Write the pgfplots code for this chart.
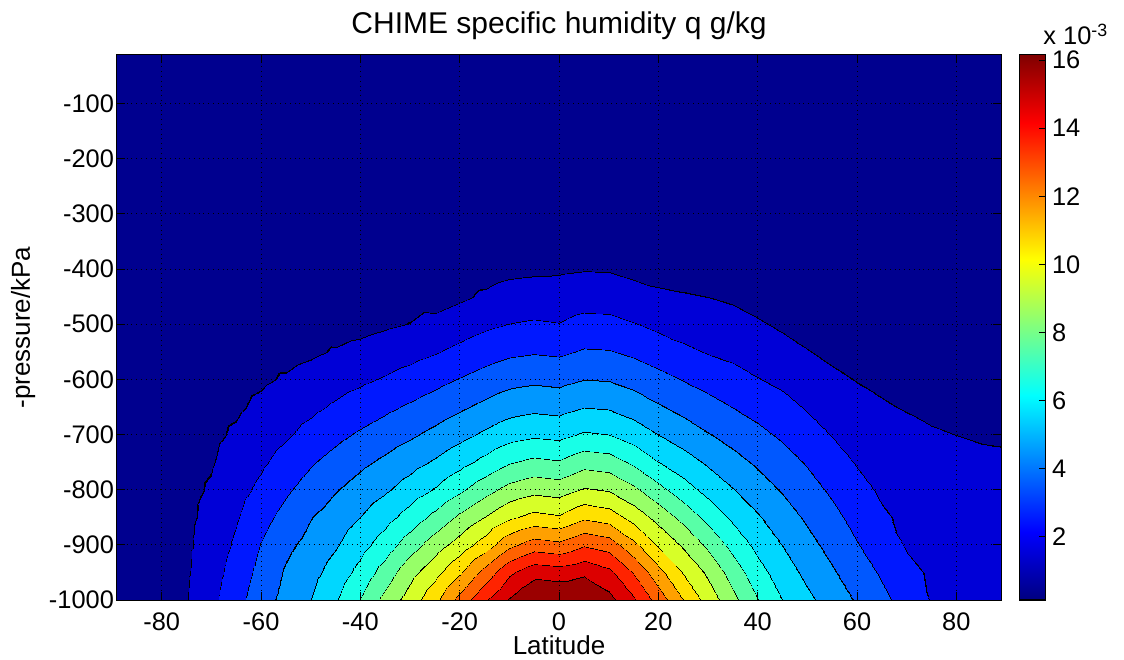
\documentclass[border=0pt]{standalone}
\usepackage{fontspec}
\setmainfont{Liberation Sans}
\usepackage{pgfplots}
\pgfplotsset{compat=1.18}
\pgfplotsset{
 colormap={chime}{
  rgb255(0.15cm)=(0,0,143)
  rgb255(0.98cm)=(0,0,0)
  rgb255(1cm)=(0,0,215)
  rgb255(1.982cm)=(0,0,0)
  rgb255(2cm)=(0,24,255)
  rgb255(2.975cm)=(0,0,0)
  rgb255(3cm)=(0,88,255)
  rgb255(3.965cm)=(0,0,0)
  rgb255(4cm)=(0,151,255)
  rgb255(4.965cm)=(0,0,0)
  rgb255(5cm)=(0,215,255)
  rgb255(5.965cm)=(0,0,0)
  rgb255(6cm)=(24,255,231)
  rgb255(6.965cm)=(0,0,0)
  rgb255(7cm)=(88,255,167)
  rgb255(7.965cm)=(0,0,0)
  rgb255(8cm)=(151,255,104)
  rgb255(8.95cm)=(0,0,0)
  rgb255(9cm)=(215,255,40)
  rgb255(9.95cm)=(0,0,0)
  rgb255(10cm)=(255,225,0)
  rgb255(10.95cm)=(0,0,0)
  rgb255(11cm)=(255,160,0)
  rgb255(11.95cm)=(0,0,0)
  rgb255(12cm)=(255,98,0)
  rgb255(12.95cm)=(0,0,0)
  rgb255(13cm)=(255,35,0)
  rgb255(13.95cm)=(0,0,0)
  rgb255(14cm)=(220,0,0)
  rgb255(14.95cm)=(0,0,0)
  rgb255(15cm)=(155,0,0)
  rgb255(16.15cm)=(155,0,0)
 }
}
\begin{document}
\begin{tikzpicture}
\begin{axis}[
 at={(0pt,0pt)}, anchor=south west,
 scale only axis, width=442pt, height=272.5pt,
 xmin=-89, xmax=89, ymin=-1000, ymax=-12,
 xtick={-80,-60,-40,-20,0,20,40,60,80},
 ytick={-1000,-900,-800,-700,-600,-500,-400,-300,-200,-100},
 tick align=inside, tick pos=both, major tick length=4pt,
 grid=major, major grid style={black, dotted, line width=0.45pt},
 axis on top,
 axis line style={black, line width=0.5pt},
 every tick/.append style={black, line width=0.5pt},
 tick label style={font=\fontsize{12.7}{14}\selectfont},
 /pgf/number format/assume math mode=true,
 /pgf/number format/1000 sep={},
 yticklabel style={xshift=2pt},
 xticklabel style={yshift=-3pt},
 title={CHIME specific humidity q g/kg},
 title style={font=\fontsize{15}{18}\selectfont, yshift=-2pt},
 xlabel={Latitude}, ylabel={-pressure/kPa},
 label style={font=\fontsize{13}{15}\selectfont},
 xlabel style={at={(axis description cs:0.5,0)}, anchor=base, yshift=-27pt},
 colormap name=chime, colormap access=piecewise constant,
 point meta min=0.15, point meta max=16.15,
 colorbar,
 colorbar shift/.style={xshift=9pt},
 colorbar style={
  at={(parent axis.north east)}, anchor=north west,
  width=13pt,
  colormap/jet, colormap access=map,
  ytick={2,4,6,8,10,12,14,16},
  ytick pos=right, yticklabel pos=right,
  tick align=inside, major tick length=3pt,
  axis line style={black, line width=0.5pt},
  every tick/.append style={black, line width=0.5pt},
  tick label style={font=\fontsize{12.7}{14}\selectfont},
  /pgf/number format/assume math mode=true,
  title={x 10\textsuperscript{-3}},
  title style={at={(0.5,1)}, anchor=base west, xshift=5.5pt, yshift=-1pt, inner sep=0pt, font=\fontsize{12.7}{14}\selectfont},
 },
]
\addplot[surf, shader=interp, mesh/cols=37, mesh/rows=15, point meta=explicit] table[row sep=\\, x=lat, y=p, meta=q] {
lat p q \\
-90 -1000 0.40 \\ -85 -1000 0.55 \\ -80 -1000 0.75 \\ -75 -1000 0.97 \\ -70 -1000 1.72 \\ -65 -1000 2.66 \\ -60 -1000 3.55 \\ -55 -1000 4.31 \\ -50 -1000 4.99 \\ -45 -1000 5.91 \\ -40 -1000 7.00 \\ -35 -1000 8.29 \\ -30 -1000 9.44 \\ -25 -1000 10.71 \\ -20 -1000 12.33 \\ -15 -1000 13.86 \\ -10 -1000 15.05 \\ -5 -1000 16.00 \\ 0 -1000 16.05 \\ 5 -1000 16.15 \\ 10 -1000 15.30 \\ 15 -1000 14.10 \\ 20 -1000 12.58 \\ 25 -1000 11.00 \\ 30 -1000 9.56 \\ 35 -1000 8.25 \\ 40 -1000 7.00 \\ 45 -1000 5.96 \\ 50 -1000 5.21 \\ 55 -1000 4.53 \\ 60 -1000 3.88 \\ 65 -1000 3.23 \\ 70 -1000 2.58 \\ 75 -1000 1.95 \\ 80 -1000 1.80 \\ 85 -1000 1.65 \\ 90 -1000 1.50 \\
-90 -950 0.39 \\ -85 -950 0.53 \\ -80 -950 0.72 \\ -75 -950 0.90 \\ -70 -950 1.56 \\ -65 -950 2.41 \\ -60 -950 3.29 \\ -55 -950 4.10 \\ -50 -950 4.66 \\ -45 -950 5.40 \\ -40 -950 6.29 \\ -35 -950 7.42 \\ -30 -950 8.63 \\ -25 -950 9.63 \\ -20 -950 10.84 \\ -15 -950 12.33 \\ -10 -950 13.77 \\ -5 -950 14.60 \\ 0 -950 14.43 \\ 5 -950 14.76 \\ 10 -950 14.22 \\ 15 -950 12.86 \\ 20 -950 11.32 \\ 25 -950 9.90 \\ 30 -950 8.77 \\ 35 -950 7.52 \\ 40 -950 6.33 \\ 45 -950 5.45 \\ 50 -950 4.73 \\ 55 -950 4.09 \\ 60 -950 3.46 \\ 65 -950 2.85 \\ 70 -950 2.22 \\ 75 -950 1.88 \\ 80 -950 1.75 \\ 85 -950 1.61 \\ 90 -950 1.47 \\
-90 -900 0.38 \\ -85 -900 0.51 \\ -80 -900 0.69 \\ -75 -900 0.85 \\ -70 -900 1.40 \\ -65 -900 2.15 \\ -60 -900 3.03 \\ -55 -900 3.77 \\ -50 -900 4.31 \\ -45 -900 4.90 \\ -40 -900 5.62 \\ -35 -900 6.47 \\ -30 -900 7.52 \\ -25 -900 8.52 \\ -20 -900 9.44 \\ -15 -900 10.46 \\ -10 -900 11.73 \\ -5 -900 12.48 \\ 0 -900 12.26 \\ 5 -900 12.89 \\ 10 -900 12.54 \\ 15 -900 11.23 \\ 20 -900 9.88 \\ 25 -900 8.84 \\ 30 -900 7.78 \\ 35 -900 6.64 \\ 40 -900 5.69 \\ 45 -900 4.95 \\ 50 -900 4.29 \\ 55 -900 3.67 \\ 60 -900 3.04 \\ 65 -900 2.48 \\ 70 -900 1.90 \\ 75 -900 1.80 \\ 80 -900 1.70 \\ 85 -900 1.57 \\ 90 -900 1.44 \\
-90 -850 0.37 \\ -85 -850 0.49 \\ -80 -850 0.66 \\ -75 -850 0.82 \\ -70 -850 1.24 \\ -65 -850 1.90 \\ -60 -850 2.63 \\ -55 -850 3.32 \\ -50 -850 3.95 \\ -45 -850 4.43 \\ -40 -850 4.98 \\ -35 -850 5.62 \\ -30 -850 6.39 \\ -25 -850 7.26 \\ -20 -850 8.18 \\ -15 -850 9.00 \\ -10 -850 9.79 \\ -5 -850 10.28 \\ 0 -850 10.08 \\ 5 -850 10.80 \\ 10 -850 10.50 \\ 15 -850 9.56 \\ 20 -850 8.63 \\ 25 -850 7.68 \\ 30 -850 6.67 \\ 35 -850 5.78 \\ 40 -850 5.06 \\ 45 -850 4.42 \\ 50 -850 3.83 \\ 55 -850 3.25 \\ 60 -850 2.66 \\ 65 -850 2.11 \\ 70 -850 1.80 \\ 75 -850 1.72 \\ 80 -850 1.64 \\ 85 -850 1.52 \\ 90 -850 1.40 \\
-90 -800 0.36 \\ -85 -800 0.47 \\ -80 -800 0.63 \\ -75 -800 0.78 \\ -70 -800 1.08 \\ -65 -800 1.64 \\ -60 -800 2.21 \\ -55 -800 2.85 \\ -50 -800 3.42 \\ -45 -800 3.94 \\ -40 -800 4.38 \\ -35 -800 4.86 \\ -30 -800 5.44 \\ -25 -800 6.07 \\ -20 -800 6.83 \\ -15 -800 7.63 \\ -10 -800 8.34 \\ -5 -800 8.71 \\ 0 -800 8.56 \\ 5 -800 9.09 \\ 10 -800 8.91 \\ 15 -800 8.19 \\ 20 -800 7.32 \\ 25 -800 6.44 \\ 30 -800 5.67 \\ 35 -800 5.03 \\ 40 -800 4.44 \\ 45 -800 3.89 \\ 50 -800 3.37 \\ 55 -800 2.83 \\ 60 -800 2.29 \\ 65 -800 1.85 \\ 70 -800 1.70 \\ 75 -800 1.62 \\ 80 -800 1.56 \\ 85 -800 1.45 \\ 90 -800 1.35 \\
-90 -750 0.35 \\ -85 -750 0.45 \\ -80 -750 0.60 \\ -75 -750 0.74 \\ -70 -750 0.92 \\ -65 -750 1.38 \\ -60 -750 1.84 \\ -55 -750 2.35 \\ -50 -750 2.89 \\ -45 -750 3.35 \\ -40 -750 3.77 \\ -35 -750 4.17 \\ -30 -750 4.62 \\ -25 -750 5.10 \\ -20 -750 5.66 \\ -15 -750 6.26 \\ -10 -750 6.89 \\ -5 -750 7.21 \\ 0 -750 7.06 \\ 5 -750 7.61 \\ 10 -750 7.45 \\ 15 -750 6.78 \\ 20 -750 6.00 \\ 25 -750 5.41 \\ 30 -750 4.84 \\ 35 -750 4.31 \\ 40 -750 3.82 \\ 45 -750 3.37 \\ 50 -750 2.90 \\ 55 -750 2.39 \\ 60 -750 1.92 \\ 65 -750 1.65 \\ 70 -750 1.57 \\ 75 -750 1.48 \\ 80 -750 1.40 \\ 85 -750 1.30 \\ 90 -750 1.22 \\
-90 -700 0.34 \\ -85 -700 0.43 \\ -80 -700 0.57 \\ -75 -700 0.70 \\ -70 -700 0.80 \\ -65 -700 1.12 \\ -60 -700 1.51 \\ -55 -700 1.88 \\ -50 -700 2.32 \\ -45 -700 2.75 \\ -40 -700 3.13 \\ -35 -700 3.48 \\ -30 -700 3.85 \\ -25 -700 4.25 \\ -20 -700 4.70 \\ -15 -700 5.17 \\ -10 -700 5.62 \\ -5 -700 5.84 \\ 0 -700 5.73 \\ 5 -700 6.12 \\ 10 -700 6.00 \\ 15 -700 5.53 \\ 20 -700 5.00 \\ 25 -700 4.52 \\ 30 -700 4.05 \\ 35 -700 3.63 \\ 40 -700 3.24 \\ 45 -700 2.83 \\ 50 -700 2.40 \\ 55 -700 1.96 \\ 60 -700 1.60 \\ 65 -700 1.42 \\ 70 -700 1.35 \\ 75 -700 1.18 \\ 80 -700 0.99 \\ 85 -700 0.85 \\ 90 -700 0.80 \\
-90 -650 0.33 \\ -85 -650 0.41 \\ -80 -650 0.54 \\ -75 -650 0.66 \\ -70 -650 0.72 \\ -65 -650 0.86 \\ -60 -650 1.18 \\ -55 -650 1.48 \\ -50 -650 1.79 \\ -45 -650 2.13 \\ -40 -650 2.45 \\ -35 -650 2.79 \\ -30 -650 3.12 \\ -25 -650 3.46 \\ -20 -650 3.84 \\ -15 -650 4.22 \\ -10 -650 4.58 \\ -5 -650 4.75 \\ 0 -650 4.65 \\ 5 -650 4.96 \\ 10 -650 4.88 \\ 15 -650 4.53 \\ 20 -650 4.09 \\ 25 -650 3.70 \\ 30 -650 3.33 \\ 35 -650 2.97 \\ 40 -650 2.63 \\ 45 -650 2.28 \\ 50 -650 1.91 \\ 55 -650 1.57 \\ 60 -650 1.27 \\ 65 -650 1.12 \\ 70 -650 0.90 \\ 75 -650 0.62 \\ 80 -650 0.60 \\ 85 -650 0.55 \\ 90 -650 0.52 \\
-90 -600 0.32 \\ -85 -600 0.39 \\ -80 -600 0.51 \\ -75 -600 0.62 \\ -70 -600 0.66 \\ -65 -600 0.70 \\ -60 -600 0.86 \\ -55 -600 1.08 \\ -50 -600 1.33 \\ -45 -600 1.59 \\ -40 -600 1.81 \\ -35 -600 2.07 \\ -30 -600 2.37 \\ -25 -600 2.69 \\ -20 -600 3.03 \\ -15 -600 3.37 \\ -10 -600 3.66 \\ -5 -600 3.79 \\ 0 -600 3.70 \\ 5 -600 3.96 \\ 10 -600 3.91 \\ 15 -600 3.63 \\ 20 -600 3.29 \\ 25 -600 2.94 \\ 30 -600 2.62 \\ 35 -600 2.32 \\ 40 -600 2.02 \\ 45 -600 1.77 \\ 50 -600 1.47 \\ 55 -600 1.18 \\ 60 -600 0.95 \\ 65 -600 0.72 \\ 70 -600 0.62 \\ 75 -600 0.54 \\ 80 -600 0.52 \\ 85 -600 0.50 \\ 90 -600 0.48 \\
-90 -550 0.31 \\ -85 -550 0.37 \\ -80 -550 0.48 \\ -75 -550 0.58 \\ -70 -550 0.60 \\ -65 -550 0.62 \\ -60 -550 0.72 \\ -55 -550 0.70 \\ -50 -550 0.86 \\ -45 -550 1.07 \\ -40 -550 1.26 \\ -35 -550 1.46 \\ -30 -550 1.67 \\ -25 -550 1.93 \\ -20 -550 2.24 \\ -15 -550 2.56 \\ -10 -550 2.81 \\ -5 -550 2.92 \\ 0 -550 2.84 \\ 5 -550 3.09 \\ 10 -550 3.05 \\ 15 -550 2.81 \\ 20 -550 2.50 \\ 25 -550 2.18 \\ 30 -550 1.94 \\ 35 -550 1.77 \\ 40 -550 1.56 \\ 45 -550 1.31 \\ 50 -550 1.04 \\ 55 -550 0.79 \\ 60 -550 0.72 \\ 65 -550 0.58 \\ 70 -550 0.54 \\ 75 -550 0.50 \\ 80 -550 0.48 \\ 85 -550 0.47 \\ 90 -550 0.46 \\
-90 -500 0.30 \\ -85 -500 0.35 \\ -80 -500 0.45 \\ -75 -500 0.54 \\ -70 -500 0.55 \\ -65 -500 0.56 \\ -60 -500 0.63 \\ -55 -500 0.62 \\ -50 -500 0.66 \\ -45 -500 0.60 \\ -40 -500 0.70 \\ -35 -500 0.86 \\ -30 -500 1.01 \\ -25 -500 1.26 \\ -20 -500 1.53 \\ -15 -500 1.80 \\ -10 -500 2.00 \\ -5 -500 2.10 \\ 0 -500 2.02 \\ 5 -500 2.29 \\ 10 -500 2.25 \\ 15 -500 2.03 \\ 20 -500 1.78 \\ 25 -500 1.60 \\ 30 -500 1.47 \\ 35 -500 1.32 \\ 40 -500 1.09 \\ 45 -500 0.84 \\ 50 -500 0.62 \\ 55 -500 0.64 \\ 60 -500 0.63 \\ 65 -500 0.52 \\ 70 -500 0.50 \\ 75 -500 0.47 \\ 80 -500 0.46 \\ 85 -500 0.45 \\ 90 -500 0.44 \\
-90 -450 0.29 \\ -85 -450 0.33 \\ -80 -450 0.42 \\ -75 -450 0.50 \\ -70 -450 0.50 \\ -65 -450 0.50 \\ -60 -450 0.55 \\ -55 -450 0.55 \\ -50 -450 0.57 \\ -45 -450 0.55 \\ -40 -450 0.58 \\ -35 -450 0.62 \\ -30 -450 0.66 \\ -25 -450 0.58 \\ -20 -450 0.85 \\ -15 -450 1.13 \\ -10 -450 1.38 \\ -5 -450 1.45 \\ 0 -450 1.44 \\ 5 -450 1.58 \\ 10 -450 1.56 \\ 15 -450 1.38 \\ 20 -450 1.17 \\ 25 -450 1.07 \\ 30 -450 0.99 \\ 35 -450 0.86 \\ 40 -450 0.63 \\ 45 -450 0.62 \\ 50 -450 0.56 \\ 55 -450 0.57 \\ 60 -450 0.56 \\ 65 -450 0.48 \\ 70 -450 0.47 \\ 75 -450 0.45 \\ 80 -450 0.44 \\ 85 -450 0.43 \\ 90 -450 0.42 \\
-90 -400 0.28 \\ -85 -400 0.31 \\ -80 -400 0.39 \\ -75 -400 0.46 \\ -70 -400 0.46 \\ -65 -400 0.46 \\ -60 -400 0.48 \\ -55 -400 0.48 \\ -50 -400 0.50 \\ -45 -400 0.50 \\ -40 -400 0.52 \\ -35 -400 0.54 \\ -30 -400 0.56 \\ -25 -400 0.52 \\ -20 -400 0.60 \\ -15 -400 0.62 \\ -10 -400 0.77 \\ -5 -400 0.83 \\ 0 -400 0.87 \\ 5 -400 0.94 \\ 10 -400 0.92 \\ 15 -400 0.74 \\ 20 -400 0.66 \\ 25 -400 0.62 \\ 30 -400 0.60 \\ 35 -400 0.62 \\ 40 -400 0.55 \\ 45 -400 0.54 \\ 50 -400 0.50 \\ 55 -400 0.50 \\ 60 -400 0.50 \\ 65 -400 0.45 \\ 70 -400 0.45 \\ 75 -400 0.43 \\ 80 -400 0.42 \\ 85 -400 0.41 \\ 90 -400 0.40 \\
-90 -300 0.24 \\ -85 -300 0.26 \\ -80 -300 0.29 \\ -75 -300 0.35 \\ -70 -300 0.34 \\ -65 -300 0.34 \\ -60 -300 0.34 \\ -55 -300 0.34 \\ -50 -300 0.35 \\ -45 -300 0.36 \\ -40 -300 0.37 \\ -35 -300 0.38 \\ -30 -300 0.39 \\ -25 -300 0.40 \\ -20 -300 0.42 \\ -15 -300 0.44 \\ -10 -300 0.46 \\ -5 -300 0.47 \\ 0 -300 0.47 \\ 5 -300 0.48 \\ 10 -300 0.48 \\ 15 -300 0.46 \\ 20 -300 0.45 \\ 25 -300 0.44 \\ 30 -300 0.43 \\ 35 -300 0.42 \\ 40 -300 0.41 \\ 45 -300 0.40 \\ 50 -300 0.38 \\ 55 -300 0.37 \\ 60 -300 0.37 \\ 65 -300 0.35 \\ 70 -300 0.35 \\ 75 -300 0.34 \\ 80 -300 0.34 \\ 85 -300 0.33 \\ 90 -300 0.33 \\
-90 -10 0.15 \\ -85 -10 0.15 \\ -80 -10 0.15 \\ -75 -10 0.15 \\ -70 -10 0.15 \\ -65 -10 0.15 \\ -60 -10 0.15 \\ -55 -10 0.15 \\ -50 -10 0.15 \\ -45 -10 0.15 \\ -40 -10 0.15 \\ -35 -10 0.15 \\ -30 -10 0.15 \\ -25 -10 0.15 \\ -20 -10 0.15 \\ -15 -10 0.15 \\ -10 -10 0.15 \\ -5 -10 0.15 \\ 0 -10 0.15 \\ 5 -10 0.15 \\ 10 -10 0.15 \\ 15 -10 0.15 \\ 20 -10 0.15 \\ 25 -10 0.15 \\ 30 -10 0.15 \\ 35 -10 0.15 \\ 40 -10 0.15 \\ 45 -10 0.15 \\ 50 -10 0.15 \\ 55 -10 0.15 \\ 60 -10 0.15 \\ 65 -10 0.15 \\ 70 -10 0.15 \\ 75 -10 0.15 \\ 80 -10 0.15 \\ 85 -10 0.15 \\ 90 -10 0.15 \\
};
\end{axis}
\pgfresetboundingbox
\path (-58.5pt,-29.5pt) rectangle (503.5pt,300pt);
\end{tikzpicture}
\end{document}
